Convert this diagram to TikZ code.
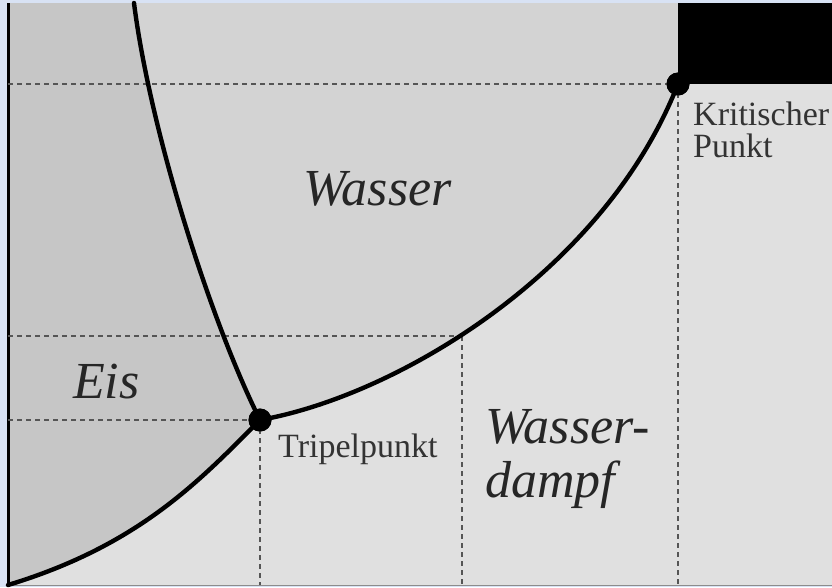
\documentclass[tikz,border=0pt]{standalone}
\usepackage{fontspec}
\setmainfont{Liberation Serif}
\definecolor{frameblue}{HTML}{D8E2F4}
\definecolor{icegray}{HTML}{C6C6C6}
\definecolor{watergray}{HTML}{D3D3D3}
\definecolor{vaporgray}{HTML}{E0E0E0}
\definecolor{dashgray}{HTML}{555555}
\tikzset{
  phaseline/.style={line width=4.4pt, line join=round, line cap=round},
  guide/.style={dashgray, line width=1.2pt, dash pattern=on 5pt off 4pt},
  phaselabel/.style={anchor=base west, inner sep=0pt, font=\fontsize{52}{52}\selectfont\itshape, text=black!85},
  pointlabel/.style={anchor=base west, inner sep=0pt, font=\fontsize{34}{34}\selectfont, text=black!80},
  pointdot/.style={circle, fill=black, inner sep=0pt, minimum size=23pt}
}
\begin{document}
\begin{tikzpicture}[x=1pt,y=-1pt]
\useasboundingbox (0,0) rectangle (832,587);
\fill[frameblue] (0,0) rectangle (832,587);
% key points
\coordinate (topm) at (134,3);
\coordinate (botl) at (8,585);
\coordinate (tpc) at (260,420);
\coordinate (cpc) at (678,84);
% vapour region (whole plot)
\fill[vaporgray] (8,3) rectangle (832,585);
% ice region
\fill[icegray] (8,3) -- (topm)
  .. controls (150,130) and (210,320) .. (tpc)
  .. controls (200,480) and (140,545) .. (botl) -- cycle;
% water region
\fill[watergray] (topm) -- (678,3) -- (cpc)
  .. controls (605,270) and (400,395) .. (tpc)
  .. controls (210,320) and (150,130) .. (topm) -- cycle;
% black region
\fill[black] (678,3) rectangle (832,84);
% frame lines
\draw[black, line width=3pt] (8,3) -- (botl);
\draw[black!45, line width=1.5pt] (8,585.5) -- (832,585.5);

\node[pointdot] (tp) at (tpc) {};
\node[pointdot] (cp) at (cpc) {};
\coordinate (l84) at (8,84);
\coordinate (l336) at (8,336);
\coordinate (l420) at (8,420);
\coordinate (v336) at (462,336);
\coordinate (b260) at (260,585);
\coordinate (b463) at (462,585);
\coordinate (b678) at (678,585);

% guide lines
\draw[guide] (l84) -- (cp.center);
\draw[guide] (l336) -- (v336);
\draw[guide] (l420) -- (tp.center);
\draw[guide] (tp.center) -- (b260);
\draw[guide] (v336) -- (b463);
\draw[guide] (cp.center) -- (b678);

% phase boundaries
\draw[phaseline] (topm) .. controls (150,130) and (210,320) .. (tp.center);
\draw[phaseline] (tp.center) .. controls (400,395) and (605,270) .. (cp.center);
\draw[phaseline] (botl) .. controls (140,545) and (200,480) .. (tp.center);
\node[pointdot] at (tpc) {};
\node[pointdot] at (cpc) {};

% labels
\node[phaselabel] (wasser) at (303,205) {Wasser};
\node[phaselabel] (eis) at (73,398) {Eis};
\node[phaselabel] (dampf1) at (485,443) {Wasser-};
\node[phaselabel] (dampf2) at (485,497) {dampf};
\node[pointlabel] (tplabel) at (278,457) {Tripelpunkt};
\node[pointlabel] (cplabel1) at (693,125) {Kritischer};
\node[pointlabel] (cplabel2) at (693,157) {Punkt};
\end{tikzpicture}
\end{document}
